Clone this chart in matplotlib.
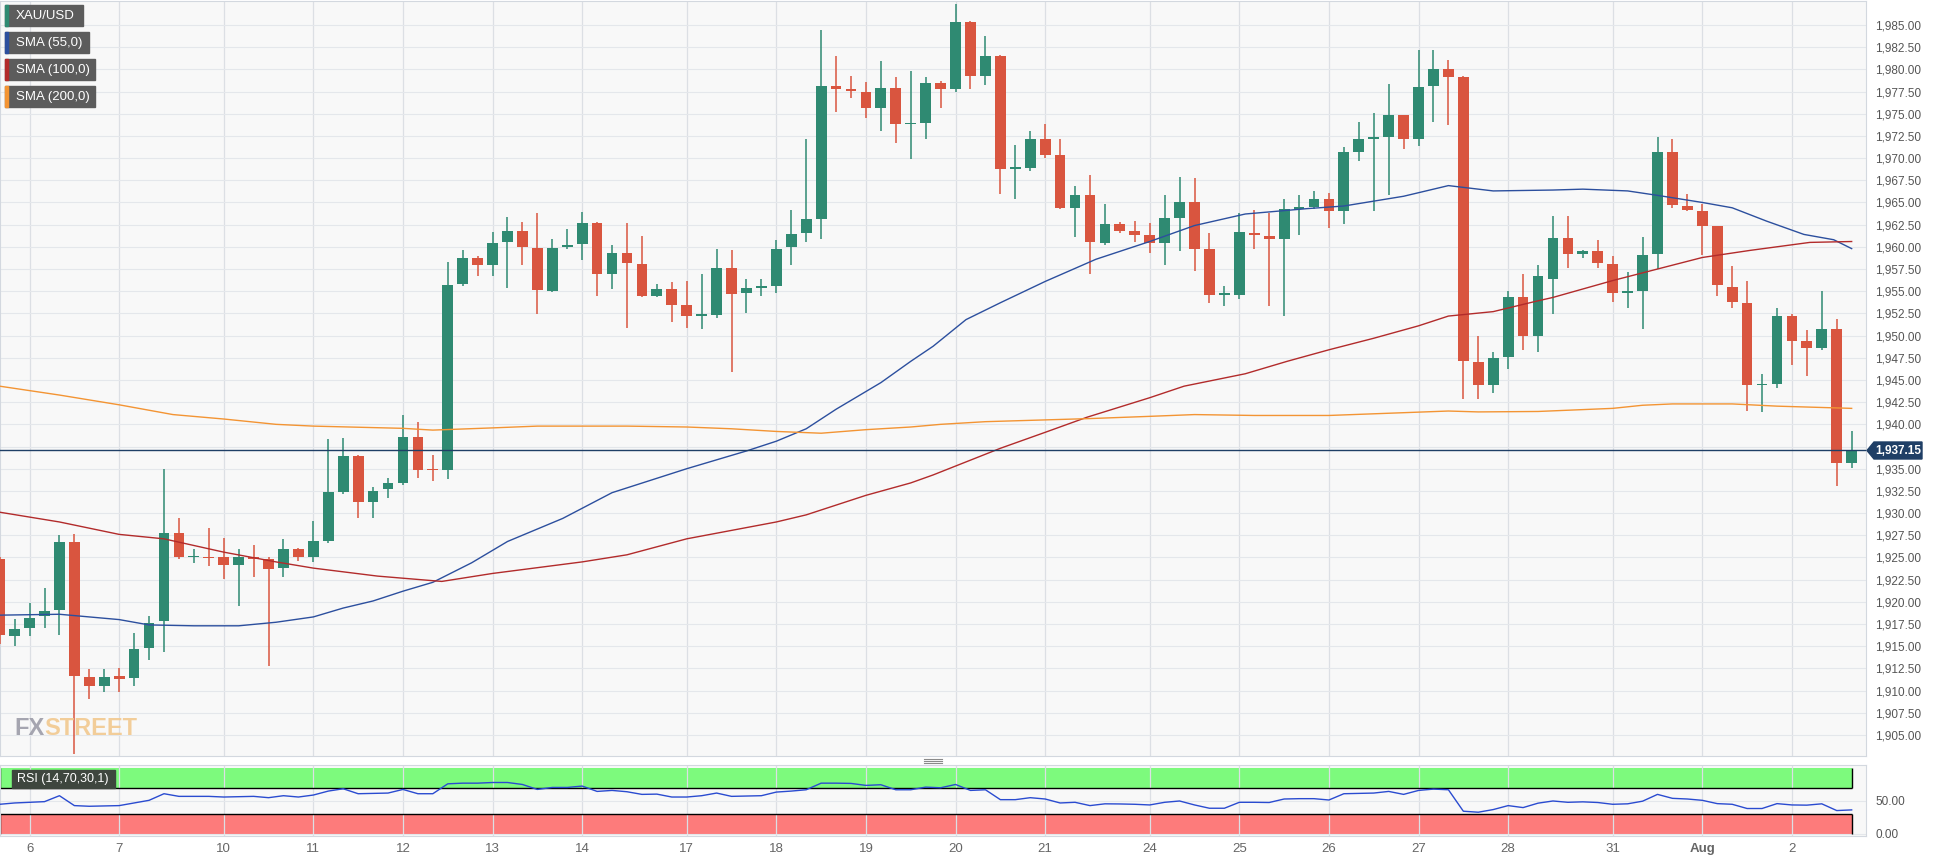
#xau/usd 4h chart with sma lines and rsi panel
import numpy as np
import matplotlib.pyplot as plt
from matplotlib.patches import Rectangle, Polygon

plt.rcParams['font.family'] = ['Liberation Sans', 'DejaVu Sans']

#candles, one row per 4h bar: open, high, low, close
opens = [1924.8, 1916.1, 1917.0, 1918.4, 1919.1, 1926.7, 1911.5, 1910.5, 1911.6, 1911.4,
         1914.8, 1917.8, 1927.8, 1925.0, 1925.1, 1925.0, 1924.1, 1925.0, 1924.8, 1923.8,
         1925.9, 1925.1, 1926.8, 1932.4, 1936.4, 1931.2, 1932.7, 1933.4, 1938.6, 1934.9,
         1934.9, 1955.8, 1958.7, 1957.9, 1960.5, 1961.8, 1959.9, 1955.0, 1960.0, 1960.3,
         1962.7, 1956.9, 1959.3, 1958.1, 1954.5, 1955.2, 1953.4, 1952.2, 1952.3, 1957.6,
         1954.8, 1955.4, 1955.6, 1960.0, 1961.6, 1963.1, 1978.1, 1977.7, 1977.5, 1975.6,
         1977.9, 1973.8, 1973.9, 1978.5, 1977.8, 1985.3, 1979.3, 1981.5, 1968.8, 1968.9,
         1972.2, 1970.3, 1964.4, 1965.8, 1960.4, 1962.6, 1961.8, 1961.3, 1960.4, 1963.3,
         1965.1, 1959.8, 1954.6, 1954.6, 1961.6, 1961.2, 1960.9, 1964.3, 1964.5, 1965.4,
         1964.0, 1970.7, 1972.2, 1972.4, 1974.8, 1972.1, 1978.1, 1980.0, 1979.1, 1947.0,
         1944.4, 1947.6, 1954.4, 1949.9, 1956.4, 1961.0, 1959.2, 1959.5, 1958.1, 1954.8,
         1955.0, 1959.2, 1970.7, 1964.6, 1964.0, 1962.3, 1955.5, 1953.7, 1944.4, 1944.6,
         1952.2, 1949.4, 1948.6, 1950.7, 1935.7]
highs = [1925.0, 1918.1, 1919.9, 1921.6, 1927.5, 1927.6, 1912.4, 1912.4, 1912.5, 1916.5,
         1918.4, 1935.0, 1929.4, 1925.9, 1928.3, 1927.2, 1925.9, 1926.4, 1925.1, 1927.1,
         1926.1, 1929.1, 1938.4, 1938.5, 1936.6, 1932.9, 1933.9, 1941.0, 1940.3, 1936.6,
         1958.3, 1959.7, 1959.0, 1961.7, 1963.4, 1962.8, 1963.8, 1960.9, 1962.0, 1963.9,
         1962.8, 1960.2, 1962.7, 1961.2, 1955.8, 1956.0, 1956.1, 1956.9, 1959.8, 1959.6,
         1956.4, 1956.4, 1960.8, 1964.2, 1972.2, 1984.4, 1981.5, 1979.2, 1978.6, 1980.9,
         1979.1, 1979.8, 1979.1, 1978.7, 1987.4, 1985.5, 1983.8, 1981.6, 1971.5, 1973.0,
         1973.8, 1972.2, 1966.9, 1968.1, 1964.8, 1962.8, 1962.9, 1962.7, 1965.8, 1967.9,
         1967.8, 1961.6, 1955.6, 1963.8, 1964.2, 1963.8, 1965.4, 1965.8, 1966.3, 1966.1,
         1971.2, 1974.1, 1975.1, 1978.4, 1974.9, 1982.2, 1982.2, 1981.1, 1979.3, 1949.9,
         1948.2, 1955.0, 1956.9, 1958.0, 1963.5, 1963.5, 1959.7, 1960.8, 1959.0, 1957.2,
         1961.1, 1972.4, 1972.2, 1966.0, 1964.8, 1962.4, 1957.8, 1956.1, 1945.7, 1953.1,
         1952.4, 1950.6, 1955.0, 1951.9, 1939.2]
lows = [1915.2, 1915.0, 1916.2, 1917.0, 1916.3, 1902.8, 1909.1, 1909.8, 1909.8, 1910.5,
        1913.5, 1914.4, 1924.8, 1924.4, 1924.0, 1922.6, 1919.5, 1922.8, 1912.8, 1922.8,
        1924.6, 1924.5, 1926.6, 1932.1, 1929.5, 1929.5, 1931.7, 1933.2, 1933.9, 1933.6,
        1933.8, 1955.6, 1956.7, 1956.7, 1955.4, 1958.0, 1952.4, 1954.9, 1959.8, 1958.5,
        1954.5, 1955.2, 1950.9, 1954.4, 1954.4, 1951.5, 1950.9, 1950.7, 1952.0, 1945.9,
        1952.5, 1954.5, 1954.8, 1957.9, 1960.6, 1960.9, 1975.2, 1976.8, 1974.5, 1973.1,
        1971.7, 1969.9, 1972.2, 1975.6, 1977.4, 1977.8, 1978.2, 1965.9, 1965.4, 1968.5,
        1970.0, 1964.3, 1961.1, 1956.9, 1960.2, 1961.6, 1960.5, 1959.3, 1958.0, 1959.5,
        1957.3, 1953.7, 1953.3, 1954.1, 1959.8, 1953.3, 1952.2, 1961.3, 1964.3, 1962.1,
        1962.6, 1969.7, 1964.0, 1965.8, 1971.0, 1971.4, 1974.1, 1973.7, 1942.8, 1942.8,
        1943.5, 1946.2, 1948.4, 1948.1, 1952.4, 1957.6, 1958.7, 1957.6, 1953.8, 1953.1,
        1950.7, 1957.5, 1964.4, 1964.0, 1959.1, 1954.5, 1953.1, 1941.5, 1941.4, 1944.1,
        1946.7, 1945.5, 1948.4, 1933.1, 1935.1]
closes = [1916.3, 1916.9, 1918.2, 1919.0, 1926.7, 1911.7, 1910.5, 1911.5, 1911.3, 1914.7,
          1917.6, 1927.8, 1925.0, 1925.1, 1924.9, 1924.1, 1925.0, 1924.8, 1923.7, 1926.0,
          1925.1, 1926.8, 1932.4, 1936.4, 1931.2, 1932.5, 1933.4, 1938.6, 1934.9, 1934.8,
          1955.7, 1958.7, 1957.9, 1960.4, 1961.8, 1960.0, 1955.1, 1959.9, 1960.2, 1962.7,
          1956.9, 1959.3, 1958.2, 1954.5, 1955.2, 1953.4, 1952.2, 1952.4, 1957.6, 1954.7,
          1955.4, 1955.5, 1959.8, 1961.5, 1963.1, 1978.1, 1977.8, 1977.6, 1975.6, 1977.9,
          1973.8, 1973.9, 1978.5, 1977.8, 1985.3, 1979.3, 1981.5, 1968.8, 1968.9, 1972.2,
          1970.3, 1964.4, 1965.8, 1960.5, 1962.6, 1961.8, 1961.3, 1960.4, 1963.3, 1965.1,
          1959.8, 1954.6, 1954.7, 1961.7, 1961.3, 1960.9, 1964.3, 1964.5, 1965.4, 1964.0,
          1970.7, 1972.1, 1972.4, 1974.8, 1972.1, 1978.0, 1980.0, 1979.1, 1947.1, 1944.4,
          1947.5, 1954.3, 1949.9, 1956.7, 1961.0, 1959.2, 1959.5, 1958.2, 1954.8, 1955.0,
          1959.1, 1970.7, 1964.7, 1964.1, 1962.3, 1955.7, 1953.8, 1944.4, 1944.6, 1952.2,
          1949.4, 1948.6, 1950.7, 1935.7, 1937.15]

#moving averages at some bars
sma55_x = [0, 4, 8, 10, 13, 16, 18.5, 21, 23, 25, 27, 29, 31.6, 34, 37.7, 41, 46, 50, 52, 54,
           56, 59, 61, 62.5, 64.7, 67, 70, 73.4, 77, 80, 83.4, 87.5, 90, 94, 97, 100, 104,
           106, 109, 111, 114, 116, 118.3, 120.8, 122.8, 124]
sma55_y = [1918.5, 1918.6, 1918.0, 1917.4, 1917.3, 1917.3, 1917.7, 1918.3, 1919.3, 1920.1,
           1921.2, 1922.2, 1924.4, 1926.8, 1929.4, 1932.3, 1935.0, 1937.0, 1938.1, 1939.5,
           1941.7, 1944.7, 1947.1, 1948.8, 1951.8, 1953.7, 1956.1, 1958.6, 1960.6, 1962.4,
           1963.7, 1964.3, 1964.6, 1965.7, 1966.9, 1966.3, 1966.4, 1966.5, 1966.3, 1965.8,
           1965.0, 1964.4, 1962.9, 1961.4, 1960.8, 1959.8]
sma100_x = [0, 4, 8, 11, 15, 18.5, 21, 25.3, 29.6, 33, 39, 42, 46, 52, 54, 58, 61, 62.5, 67,
            70, 72.8, 77, 79.3, 83.4, 86.2, 89, 92, 95, 97, 100, 102.7, 104, 108, 111, 114,
            117.2, 121.2, 124]
sma100_y = [1930.1, 1929.0, 1927.6, 1927.1, 1925.6, 1924.5, 1923.8, 1922.9, 1922.3, 1923.2,
            1924.5, 1925.3, 1927.1, 1929.0, 1929.8, 1932.0, 1933.4, 1934.3, 1937.3, 1939.1,
            1940.8, 1943.0, 1944.3, 1945.7, 1947.1, 1948.4, 1949.7, 1951.1, 1952.2, 1952.7,
            1953.8, 1954.3, 1956.2, 1957.5, 1958.8, 1959.6, 1960.5, 1960.6]
sma200_x = [0, 4, 8, 11.6, 15, 18.5, 21, 27, 29, 33, 36, 42, 46, 49, 52, 55, 58, 61, 63, 66,
            70, 73, 77, 80, 84, 89, 93, 97, 99, 103, 108, 110, 112, 116, 119, 124]
sma200_y = [1944.3, 1943.3, 1942.2, 1941.1, 1940.6, 1940.0, 1939.8, 1939.55, 1939.35, 1939.6,
            1939.8, 1939.8, 1939.7, 1939.5, 1939.2, 1939.0, 1939.4, 1939.7, 1940.0, 1940.3,
            1940.5, 1940.65, 1940.9, 1941.1, 1941.0, 1941.0, 1941.25, 1941.5, 1941.4, 1941.45,
            1941.8, 1942.15, 1942.3, 1942.3, 1942.05, 1941.8]

#rsi(14) for every bar
rsi = [45, 47, 48, 49, 58, 43, 42, 42.5, 43, 47, 51, 61, 57, 57, 57, 56, 56.5, 57, 55, 58,
       56, 59, 65, 68.5, 61, 61.5, 62, 67.5, 61, 61, 76, 77, 77, 78, 78, 75, 67.5, 70.5, 70.5, 72.6,
       64.5, 66, 64, 60, 60.4, 56, 56, 58, 62, 57, 57.5, 58, 63.5, 65, 67, 77, 77, 76.6, 73.6, 74.6,
       67, 67, 71, 70, 75, 66, 67, 52, 52, 55, 53, 47, 48, 43, 45.7, 45.5, 45, 44, 48, 50,
       44, 39, 39, 48, 48, 47.7, 53, 53.5, 53.5, 51.5, 61, 61.5, 62, 64.5, 60, 66, 68, 67, 34.5, 33,
       37, 43, 40, 46.7, 50, 48, 48.7, 47.7, 45, 45.7, 49.7, 60, 54, 53, 51, 46, 45, 38.6, 38.6, 46,
       44, 43.7, 45.7, 35.5, 36.5]

#day labels and the bar where each day starts
day_pos = [2, 8, 15, 21, 27, 33, 39, 46, 52, 58, 64, 70, 77, 83, 89, 95, 101, 108, 114, 120]
day_labels = ['6', '7', '10', '11', '12', '13', '14', '17', '18', '19', '20', '21', '24', '25',
              '26', '27', '28', '31', 'Aug', '2']

last_price = 1937.15

W, H = 1937, 860
fig = plt.figure(figsize=(W / 100, H / 100), dpi=100)

def fbox(x0, y0, x1, y1):
    #pixel box (top-left origin) -> figure fraction rect
    return [x0 / W, 1 - y1 / H, (x1 - x0) / W, (y1 - y0) / H]

green = '#2f8a72'
red = '#d9553f'
grid_c = '#e4e7eb'
vgrid_c = '#dcdfe4'

ax = fig.add_axes(fbox(0, 1, 1866, 756))
ax.set_facecolor('#f8f8f8')
x = np.arange(len(closes))
o = np.array(opens); c = np.array(closes)
cols = [green if cc >= oo else red for oo, cc in zip(o, c)]
ax.vlines(x, lows, highs, colors=cols, linewidth=1.1, zorder=3)
body_h = np.maximum(np.abs(c - o), 0.2)
ax.bar(x, body_h, bottom=np.minimum(o, c), width=0.72, color=cols, zorder=4, linewidth=0)

ax.plot(sma55_x, sma55_y, color='#2c4f9e', lw=1.0, zorder=5)
ax.plot(sma100_x, sma100_y, color='#b22b2b', lw=1.0, zorder=5)
ax.plot(sma200_x, sma200_y, color='#f39433', lw=1.0, zorder=5)
ax.axhline(last_price, color='#1f3f66', lw=1.0, zorder=6)

ax.set_xlim(0.02, 124.96)
ax.set_ylim(1902.63, 1987.7)
ax.yaxis.tick_right()
yt = np.arange(1905, 1985.01, 2.5)
ax.set_yticks(yt)
ax.set_yticklabels(['{:,.2f}'.format(v) for v in yt], fontsize=8.5, color='#555555')
ax.set_xticks(day_pos)
ax.tick_params(axis='x', length=0, labelbottom=False)
ax.tick_params(axis='y', length=0, pad=6.5)
ax.grid(axis='y', color=grid_c, lw=0.8, zorder=0)
ax.grid(axis='x', color=vgrid_c, lw=0.9, zorder=0)
for s in ax.spines.values():
    s.set_color('#d3d8df')

#rsi panel
ax2 = fig.add_axes(fbox(0, 765, 1866, 836))
ax2.set_facecolor('#f8f8f8')
ax2.set_xlim(0.02, 124.96)
ax2.set_ylim(-3.03, 104.5)
ax2.fill_between([0, 124], 70, 100, color='#7dfa7d', zorder=1, lw=0)
ax2.fill_between([0, 124], 0, 30, color='#fd7b7b', zorder=1, lw=0)
ax2.hlines([70, 30], 0, 124, color='black', lw=1.0, zorder=2)
ax2.vlines([0.05, 124], 70, 100, color='black', lw=1.0, zorder=2)
ax2.vlines([0.05, 124], 0, 30, color='black', lw=1.0, zorder=2)
ax2.plot(x, rsi, color='#2a4bd0', lw=1.0, zorder=3)
ax2.yaxis.tick_right()
ax2.set_yticks([0, 50])
ax2.set_yticklabels(['0.00', '50.00'], fontsize=8.5, color='#555555')
ax2.set_xticks(day_pos)
ax2.set_xticklabels(day_labels, fontsize=9.5, color='#666666')
for t in ax2.get_xticklabels():
    if t.get_text() == 'Aug':
        t.set_fontweight('bold')
ax2.tick_params(axis='x', length=0, pad=5)
ax2.tick_params(axis='y', length=0, pad=6.5)
ax2.grid(axis='y', color=grid_c, lw=0.8, zorder=0)
ax2.grid(axis='x', color=vgrid_c, lw=0.9, zorder=0)
for s in ax2.spines.values():
    s.set_color('#d3d8df')

#legend boxes top left
legend = [('XAU/USD', '#2f8a72', 83), ('SMA (55,0)', '#2c4f9e', 89),
          ('SMA (100,0)', '#b22b2b', 95), ('SMA (200,0)', '#f39433', 95)]
for k, (name, col, right) in enumerate(legend):
    y0 = 5 + k * 27
    fig.patches.append(Rectangle(fbox(5, y0, right, y0 + 21)[:2], (right - 5) / W, 21 / H,
                                 transform=fig.transFigure, color='#5c5c5c', zorder=10))
    fig.patches.append(Rectangle(fbox(5, y0, 7.5, y0 + 21)[:2], 2.5 / W, 21 / H,
                                 transform=fig.transFigure, color=col, zorder=11))
    fig.text(16 / W, 1 - (y0 + 11) / H, name, color='white', fontsize=9.5,
             va='center', ha='left', zorder=12)

#rsi label box
fig.patches.append(Rectangle(fbox(12, 770, 115, 788)[:2], 103 / W, 18 / H,
                             transform=fig.transFigure, color='#3e463e', zorder=10))
fig.text(17 / W, 1 - 779 / H, 'RSI (14,70,30,1)', color='white', fontsize=9,
         va='center', ha='left', zorder=12)

#last price tag on the right axis
tag = [(1867, 450.5), (1874, 442), (1922, 442), (1922, 459), (1874, 459)]
fig.patches.append(Polygon([(px / W, 1 - py / H) for px, py in tag], closed=True,
                           transform=fig.transFigure, color='#1f3f66', zorder=10))
fig.text(1898 / W, 1 - 451 / H, '{:,.2f}'.format(last_price), color='white', fontsize=8.5,
         fontweight='bold', va='center', ha='center', zorder=12)

#drag handle between panels
for dy in (759, 761, 763):
    fig.add_artist(plt.Line2D([924 / W, 942 / W], [1 - dy / H, 1 - dy / H],
                              color='#8a8a8a', lw=0.8))

#watermark
fig.text(14 / W, 1 - 735 / H, 'FX', color='#9c9ca8', fontsize=17, fontweight='bold',
         alpha=0.9, va='baseline', ha='left')
fig.text(44 / W, 1 - 735 / H, 'STREET', color='#f2c98f', fontsize=17, fontweight='bold',
         alpha=0.9, va='baseline', ha='left')

fig.savefig('out.png', dpi=100, facecolor='white')
